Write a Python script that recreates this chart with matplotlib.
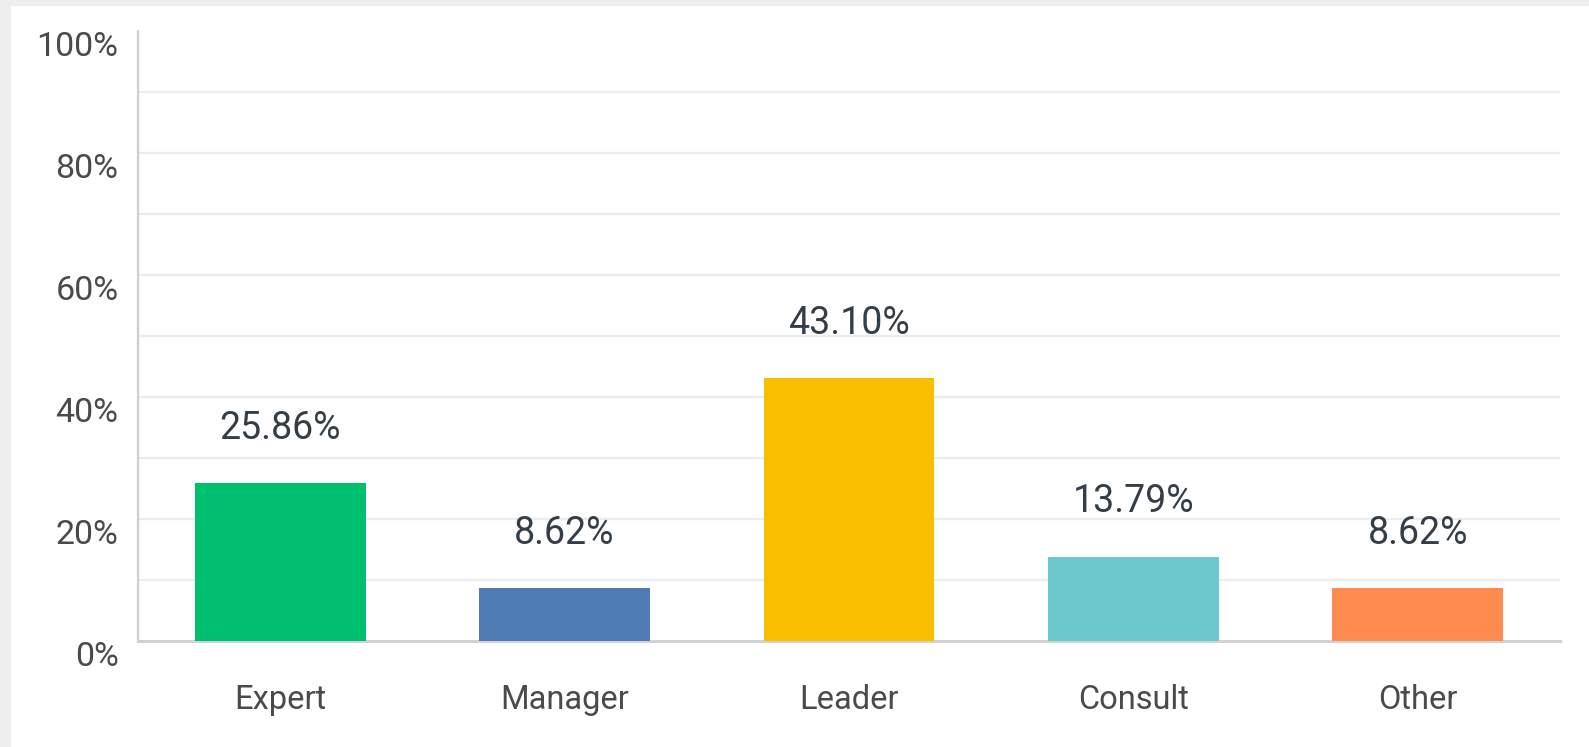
import matplotlib
matplotlib.use("Agg")
import matplotlib.pyplot as plt
from matplotlib.patches import Rectangle
from matplotlib.transforms import ScaledTranslation

categories = ["Expert", "Manager", "Leader", "Consult", "Other"]
values = [25.86, 8.62, 43.10, 13.79, 8.62]
value_labels = ["25.86%", "8.62%", "43.10%", "13.79%", "8.62%"]
colors = ["#00bf6f", "#507cb6", "#f9be00", "#6bc8cd", "#ff8b4f"]
yticks = [0, 20, 40, 60, 80, 100]
ytick_labels = ["0%", "20%", "40%", "60%", "80%", "100%"]

W, H = 1589, 747
dpi = 100
fig = plt.figure(figsize=(W / dpi, H / dpi), dpi=dpi, facecolor="#eeeeee")
fig.patches.append(Rectangle((11 / W, 0), 1 - 11 / W, 1 - 6 / H, transform=fig.transFigure,
                             facecolor="white", edgecolor="none", zorder=-10))

left, right, bottom_px, top_px = 138, 1560, 641, 31
ax = fig.add_axes([left / W, (H - bottom_px) / H, (right - left) / W, (bottom_px - top_px) / H])
ax.set_facecolor("none")

x = list(range(len(categories)))
bars = ax.bar(x, values, width=0.6, color=colors, zorder=3)

ax.set_xlim(-0.5, len(categories) - 0.5)
ax.set_ylim(0, 100)

# gridlines every 10%
for g in range(10, 100, 10):
    ax.axhline(g, color="#ececec", lw=1.6, zorder=1)

ax.set_yticks(yticks)
ax.set_yticklabels(ytick_labels)
ax.set_xticks(x)
ax.set_xticklabels(categories)

font = "Roboto"
ax.tick_params(axis="y", length=0, pad=14, labelsize=24.5, labelcolor="#4a4a4a")
ax.tick_params(axis="x", length=0, pad=31, labelsize=23.5, labelcolor="#4a4a4a")
for lab in ax.get_yticklabels():
    lab.set_fontfamily(font)
    lab.set_transform(lab.get_transform() + ScaledTranslation(0, -13 / dpi, fig.dpi_scale_trans))
for lab in ax.get_xticklabels():
    lab.set_fontfamily(font)

for s in ["top", "right"]:
    ax.spines[s].set_visible(False)
ax.spines["left"].set_color("#d0d0d0")
ax.spines["left"].set_linewidth(1.6)
ax.spines["bottom"].set_color("#d2d2d2")
ax.spines["bottom"].set_linewidth(2.2)
ax.spines["left"].set_bounds(0, 100)

for xi, v, lab in zip(x, values, value_labels):
    ax.annotate(lab, (xi, v), xytext=(0, 55 * 72 / dpi), textcoords="offset points",
                ha="center", va="center", fontsize=27, color="#333e48",
                fontfamily=font, fontweight="normal")

fig.savefig("out.png", dpi=dpi, facecolor=fig.get_facecolor())
